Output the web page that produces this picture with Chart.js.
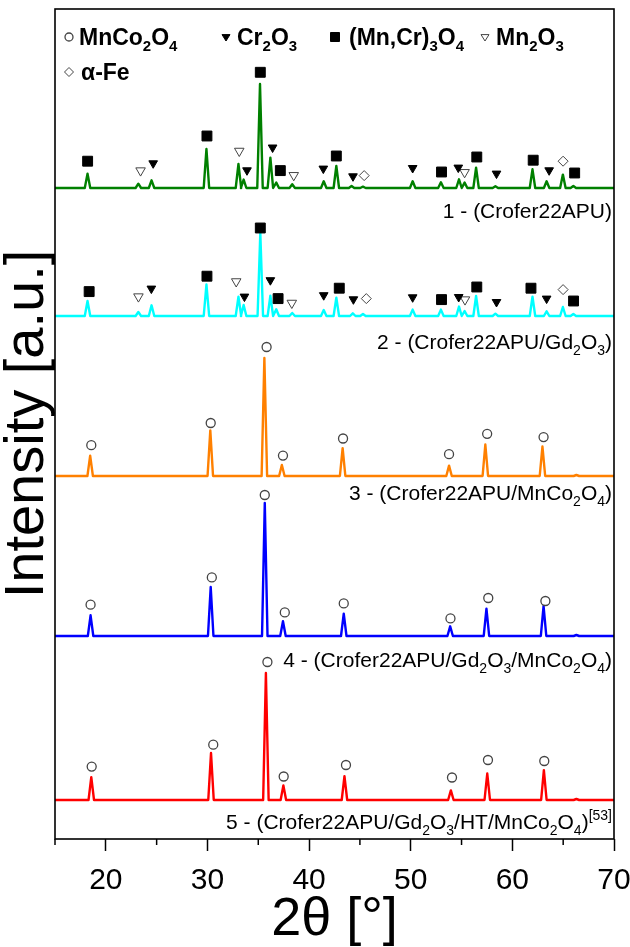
<!DOCTYPE html>
<html>
<head>
<meta charset="utf-8">
<script src="https://cdn.jsdelivr.net/npm/chart.js@4.4.1/dist/chart.umd.min.js"></script>
<style>
  html, body { margin: 0; padding: 0; background: #fff; }
  #wrap { width: 630px; height: 947px; }
</style>
</head>
<body>
<div id="wrap"><canvas id="xrd"></canvas></div>
<script>
const FONT = "'Liberation Sans', Arial, sans-serif";

const xMajor = [20, 30, 40, 50, 60, 70];
const xMinor = [15, 25, 35, 45, 55, 65];

// vertical offsets of the stacked patterns (a.u.)
const baselines = [651, 523, 363, 203, 39];
const lineColors = ['#008000', '#00FFFF', '#FF8000', '#0000FF', '#FF0000'];

// 1 - Crofer22APU
const g_peakX = [18.2, 23.2, 24.5, 29.9, 33.05, 33.56, 35.17, 36.19, 36.77, 38.34, 41.44, 42.68, 44.18, 45.3, 50.19, 52.97, 54.75, 55.3, 56.43, 58.33, 61.98, 63.37, 64.97, 66.0];
const g_peakH = [14.4, 4.3, 7.7, 39, 24, 8.4, 104, 30.4, 5.4, 3.7, 6.7, 22, 2, 1.3, 6.7, 5.7, 8.7, 5.4, 20.4, 1.7, 18.7, 6.7, 13.4, 2];
const g_markX = [18.21, 23.42, 24.66, 29.95, 33.13, 33.89, 35.2, 36.41, 37.17, 38.49, 41.4, 42.68, 44.32, 45.42, 50.19, 53.03, 54.68, 55.3, 56.5, 58.44, 62.05, 63.62, 64.99, 66.13];
const g_markY = [26.8, 17.4, 24.7, 52, 37, 17.7, 115.7, 40.5, 17.4, 12.7, 19.4, 32, 11.7, 12.4, 20, 16, 20.4, 15.7, 31, 14.4, 27.8, 17.7, 26.8, 15];
const g_markType = ['s', 'ov', 'v', 's', 'ov', 'v', 's', 'v', 's', 'ov', 'v', 's', 'v', 'd', 'v', 's', 'v', 'ov', 's', 'v', 's', 'v', 'd', 's'];

// 2 - Crofer22APU/Gd2O3
const c_peakX = [18.2, 23.2, 24.5, 29.9, 33.05, 33.56, 35.2, 36.19, 36.77, 38.34, 41.44, 42.68, 44.3, 45.3, 50.19, 52.97, 54.75, 55.3, 56.43, 58.33, 61.98, 63.37, 64.97, 66.0];
const c_peakH = [15, 4, 10.7, 31.5, 19.4, 11, 83, 20.4, 6.7, 3, 6, 18.4, 2.7, 2, 6.4, 6.4, 9.4, 5, 20, 2.3, 19.4, 4.7, 9, 2];
const c_markX = [18.36, 23.21, 24.48, 29.95, 32.83, 33.64, 35.2, 36.19, 36.95, 38.3, 41.44, 42.97, 44.36, 45.63, 50.19, 53.03, 54.72, 55.34, 56.5, 58.44, 61.83, 63.37, 64.99, 66.02];
const c_markY = [24.4, 19.4, 27.4, 39.8, 34.5, 19.4, 88, 35.8, 17.4, 13, 20.8, 27.8, 16.7, 17.4, 18.7, 16.4, 19, 16.4, 29, 14, 27.8, 17.4, 26.4, 15];
const c_markType = g_markType;

// 3 - Crofer22APU/MnCo2O4
const o_peakX = [18.46, 30.28, 35.6, 37.32, 43.3, 53.77, 57.34, 62.96, 66.3];
const o_peakH = [20.4, 45.6, 118, 11, 27.8, 10.4, 31.5, 29.5, 1];
const o_markX = [18.57, 30.32, 35.82, 37.43, 43.34, 53.77, 57.52, 63.07];
const o_markY = [30.8, 53, 129, 20.4, 37.5, 21.8, 42.2, 38.9];

// 4 - Crofer22APU/Gd2O3/MnCo2O4
const b_peakX = [18.5, 30.32, 35.64, 37.43, 43.41, 53.88, 57.45, 63.07, 66.3];
const b_peakH = [20.7, 49, 133, 14.7, 22.3, 9.7, 27.3, 30, 1];
const b_markX = [18.5, 30.43, 35.64, 37.61, 43.41, 53.91, 57.63, 63.25];
const b_markY = [31.3, 58.6, 141, 23.6, 32.6, 17.6, 38, 35];

// 5 - Crofer22APU/Gd2O3/HT/MnCo2O4
const r_peakX = [18.57, 30.35, 35.75, 37.47, 43.48, 53.95, 57.53, 63.1, 66.3];
const r_peakH = [22.8, 47, 127, 14.6, 23.8, 9.6, 26.5, 29.8, 1];
const r_markX = [18.61, 30.57, 35.9, 37.5, 43.63, 54.06, 57.6, 63.14];
const r_markY = [33.4, 55.3, 138, 23.5, 35, 22.5, 40, 39];

const sampleLabels = [
  [['1 - (Crofer22APU)']],
  [['2 - (Crofer22APU/Gd'], ['2', 'sub'], ['O'], ['3', 'sub'], [')']],
  [['3 - (Crofer22APU/MnCo'], ['2', 'sub'], ['O'], ['4', 'sub'], [')']],
  [['4 - (Crofer22APU/Gd'], ['2', 'sub'], ['O'], ['3', 'sub'], ['/MnCo'], ['2', 'sub'], ['O'], ['4', 'sub'], [')']],
  [['5 - (Crofer22APU/Gd'], ['2', 'sub'], ['O'], ['3', 'sub'], ['/HT/MnCo'], ['2', 'sub'], ['O'], ['4', 'sub'], [')'], ['[53]', 'sup']]
];
const labelY = [218, 349, 500, 667, 829];

const phaseNames = {
  o: [['MnCo'], ['2', 'sub'], ['O'], ['4', 'sub']],
  v: [['Cr'], ['2', 'sub'], ['O'], ['3', 'sub']],
  s: [['(Mn,Cr)'], ['3', 'sub'], ['O'], ['4', 'sub']],
  ov: [['Mn'], ['2', 'sub'], ['O'], ['3', 'sub']],
  d: [['\u03b1-Fe']]
};

const phaseStyle = {
  o:  { pointStyle: 'circle',   radius: 4.5, rotation: 0,   bg: '#fff',  border: '#444', bw: 1.3 },
  v:  { pointStyle: 'triangle', radius: 5,   rotation: 180, bg: '#000',  border: '#000', bw: 1 },
  s:  { pointStyle: 'rect',     radius: 7,   rotation: 0,   bg: '#000',  border: '#000', bw: 1 },
  ov: { pointStyle: 'triangle', radius: 5.5, rotation: 180, bg: '#fff',  border: '#444', bw: 1 },
  d:  { pointStyle: 'rectRot',  radius: 5,   rotation: 0,   bg: '#fff',  border: '#444', bw: 1 }
};

function tracePoints(base, px, ph) {
  const pts = [{ x: 15, y: base }];
  px.forEach((x, i) => {
    pts.push({ x: x - 0.27, y: base }, { x: x, y: base + ph[i] }, { x: x + 0.27, y: base });
  });
  pts.push({ x: 70, y: base });
  return pts;
}

const traces = [
  [g_peakX, g_peakH], [c_peakX, c_peakH], [o_peakX, o_peakH], [b_peakX, b_peakH], [r_peakX, r_peakH]
];
const marks = [
  [g_markX, g_markY, g_markType],
  [c_markX, c_markY, c_markType],
  [o_markX, o_markY, null],
  [b_markX, b_markY, null],
  [r_markX, r_markY, null]
];

const datasets = [];
traces.forEach(([px, ph], i) => {
  datasets.push({
    type: 'line',
    data: tracePoints(baselines[i], px, ph),
    borderColor: lineColors[i],
    borderWidth: 2.4,
    borderJoinStyle: 'round',
    pointRadius: 0,
    tension: 0,
    order: 2
  });
});

Object.keys(phaseStyle).forEach(k => {
  const pts = [];
  marks.forEach(([mx, my, mt], i) => {
    mx.forEach((x, j) => {
      const t = mt ? mt[j] : 'o';
      if (t === k) pts.push({ x: x, y: baselines[i] + my[j] });
    });
  });
  const st = phaseStyle[k];
  datasets.push({
    type: 'line',
    data: pts,
    showLine: false,
    pointStyle: st.pointStyle,
    pointRadius: st.radius,
    pointRotation: st.rotation,
    pointBackgroundColor: st.bg,
    pointBorderColor: st.border,
    pointBorderWidth: st.bw,
    order: 1
  });
});

function drawRich(ctx, segs, x, y, size, weight, align) {
  const big = weight + ' ' + size + 'px ' + FONT;
  const small = weight + ' ' + Math.round(size * 0.65) + 'px ' + FONT;
  let w = 0;
  segs.forEach(([t, k]) => { ctx.font = k ? small : big; w += ctx.measureText(t).width; });
  let cx = align === 'right' ? x - w : x;
  ctx.textAlign = 'left';
  ctx.textBaseline = 'alphabetic';
  segs.forEach(([t, k]) => {
    ctx.font = k ? small : big;
    const dy = k === 'sub' ? size * 0.28 : (k === 'sup' ? -size * 0.42 : 0);
    ctx.fillText(t, cx, y + dy);
    cx += ctx.measureText(t).width;
  });
}

function drawSymbol(ctx, k, x, y, r) {
  const st = phaseStyle[k];
  ctx.save();
  ctx.fillStyle = st.bg;
  ctx.strokeStyle = st.border;
  ctx.lineWidth = st.bw;
  ctx.beginPath();
  if (k === 'o') {
    ctx.arc(x, y, r, 0, Math.PI * 2);
  } else if (k === 'v' || k === 'ov') {
    ctx.moveTo(x - r, y - r * 0.6);
    ctx.lineTo(x + r, y - r * 0.6);
    ctx.lineTo(x, y + r);
    ctx.closePath();
  } else if (k === 's') {
    ctx.rect(x - r, y - r, 2 * r, 2 * r);
  } else {
    ctx.moveTo(x, y - r); ctx.lineTo(x + r, y); ctx.lineTo(x, y + r); ctx.lineTo(x - r, y);
    ctx.closePath();
  }
  ctx.fill();
  ctx.stroke();
  ctx.restore();
}

const decor = {
  id: 'decor',
  afterDraw(chart) {
    const { ctx, chartArea: a, scales } = chart;
    ctx.save();
    // frame
    ctx.strokeStyle = '#000';
    ctx.lineWidth = 1.6;
    ctx.strokeRect(a.left, a.top, a.right - a.left, a.bottom - a.top);
    // minor ticks
    ctx.lineWidth = 1.5;
    xMinor.forEach(v => {
      const px = scales.x.getPixelForValue(v);
      ctx.beginPath();
      ctx.moveTo(px, a.bottom);
      ctx.lineTo(px, a.bottom + 6);
      ctx.stroke();
    });
    // legend
    ctx.fillStyle = '#000';
    const leg1 = [['o', 69, 79], ['v', 226, 237], ['s', 335, 349], ['ov', 485, 496]];
    leg1.forEach(([k, sx, tx]) => {
      drawSymbol(ctx, k, sx, 37, k === 's' ? 4.5 : 4);
      ctx.fillStyle = '#000';
      drawRich(ctx, phaseNames[k], tx, 45, 23, 'bold', 'left');
    });
    drawSymbol(ctx, 'd', 69, 72, 4.5);
    ctx.fillStyle = '#000';
    drawRich(ctx, phaseNames.d, 81, 80, 23, 'bold', 'left');
    // sample labels
    sampleLabels.forEach((segs, i) => {
      drawRich(ctx, segs, 612, labelY[i], 21, 'normal', 'right');
    });
    ctx.restore();
  }
};

new Chart(document.getElementById('xrd'), {
  type: 'line',
  data: { datasets: datasets },
  options: {
    responsive: true,
    maintainAspectRatio: false,
    animation: false,
    layout: { padding: { top: 9, right: 16, left: 0, bottom: 0 } },
    plugins: {
      legend: { display: false },
      tooltip: { enabled: false }
    },
    scales: {
      x: {
        type: 'linear',
        min: 15,
        max: 70,
        afterBuildTicks: s => { s.ticks = xMajor.map(v => ({ value: v })); },
        afterFit: s => { s.height = 108; s.paddingLeft = 0; s.paddingRight = 0; },
        border: { display: false },
        grid: { drawOnChartArea: false, drawTicks: true, tickLength: 12, tickColor: '#000', tickWidth: 1.5 },
        ticks: { color: '#000', padding: 12, maxRotation: 0, font: { family: FONT, size: 30 } },
        title: { display: true, text: '2\u03b8 [\u00b0]', color: '#000', padding: { top: 0, bottom: 0 }, font: { family: FONT, size: 54, lineHeight: 1 } }
      },
      y: {
        type: 'linear',
        min: 0,
        max: 830,
        afterFit: s => { s.width = 55; },
        border: { display: false },
        grid: { display: false },
        ticks: { display: false },
        title: { display: true, text: 'Intensity [a.u.]', color: '#000', padding: { top: 0, bottom: 0 }, font: { family: FONT, size: 56, lineHeight: 1 } }
      }
    }
  },
  plugins: [decor]
});
</script>
</body>
</html>
